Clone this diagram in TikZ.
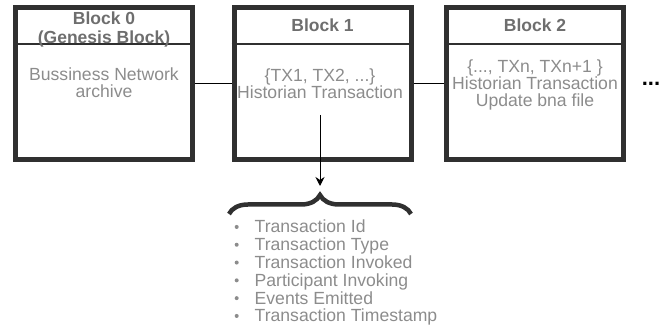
\documentclass[tikz,border=0pt]{standalone}
\usepackage{fontspec}
\setmainfont{Liberation Sans}
\usetikzlibrary{arrows.meta,decorations.pathreplacing}
\definecolor{bordergray}{HTML}{303030}
\definecolor{titlegray}{HTML}{6E6E6E}
\definecolor{bodygray}{HTML}{8C8C8C}
\tikzset{
  x=1pt,y=1pt,
  blockbox/.style={draw=bordergray,line width=5pt,minimum width=177pt,minimum height=152pt,inner sep=0pt},
  divider/.style={draw=bordergray,line width=1.4pt},
  titletext/.style={text=titlegray,font=\fontsize{17.5}{18.5}\selectfont\bfseries,align=center,inner sep=0pt},
  bodytext/.style={text=bodygray,font=\fontsize{17.6}{17}\selectfont,align=center,inner sep=0pt},
  itemtext/.style={text=bodygray,font=\fontsize{17.6}{17.8}\selectfont,align=left,inner sep=0pt,anchor=north west},
  link/.style={draw=black,line width=1pt},
  bracestyle/.style={draw=bordergray,line width=4.5pt,decorate,decoration={brace,amplitude=19pt}},
}
\newcommand{\smallbul}{\raisebox{4pt}{\tikz\fill[bodygray] (0,0) circle (2pt);}\hspace{16pt}}
\begin{document}
\begin{tikzpicture}
\useasboundingbox (0,0) rectangle (665,-328);
% blocks
\node[blockbox] (b0) at (104,-83.5) {};
\node[blockbox] (b1) at (322.5,-83.5) {};
\node[blockbox] (b2) at (535,-83.5) {};
% dividers
\draw[divider] (b0.west |- 0,-44) -- (b0.east |- 0,-44);
\draw[divider] (b1.west |- 0,-44) -- (b1.east |- 0,-44);
\draw[divider] (b2.west |- 0,-44) -- (b2.east |- 0,-44);
% titles
\node[titletext] (t0) at (104,-29.5) {Block 0\\(Genesis Block)};
\node[titletext] (t1) at (322.5,-25) {Block 1};
\node[titletext] (t2) at (535,-25) {Block 2};
% bodies
\node[bodytext] (d0) at (104,-83) {Bussiness Network\\archive};
\node[bodytext] (d1) at (320,-84) {\{TX1, TX2, ...\}\\Historian Transaction};
\node[bodytext] (d2) at (535,-84.5) {\{..., TXn, TXn+1 \}\\Historian Transaction\\Update bna file};
\node[font=\fontsize{22}{22}\selectfont\bfseries,inner sep=0pt] (dots) at (651,-84) {...};
% connectors
\draw[link] (b0.east) -- (b1.west);
\draw[link] (b1.east) -- (b2.west);
\coordinate (as) at (320,-115);
\coordinate (ae) at (320,-186);
\draw[link,-{Stealth[length=9pt,width=9pt]}] (as) -- (ae);
% brace
\coordinate (bl) at (229,-214);
\coordinate (br) at (411,-214);
\draw[bracestyle] (bl) -- (br);
% list
\node[itemtext] (list) at (234.5,-220) {\smallbul Transaction Id\\\smallbul Transaction Type\\\smallbul Transaction Invoked\\\smallbul Participant Invoking\\\smallbul Events Emitted\\\smallbul Transaction Timestamp};
\end{tikzpicture}
\end{document}
